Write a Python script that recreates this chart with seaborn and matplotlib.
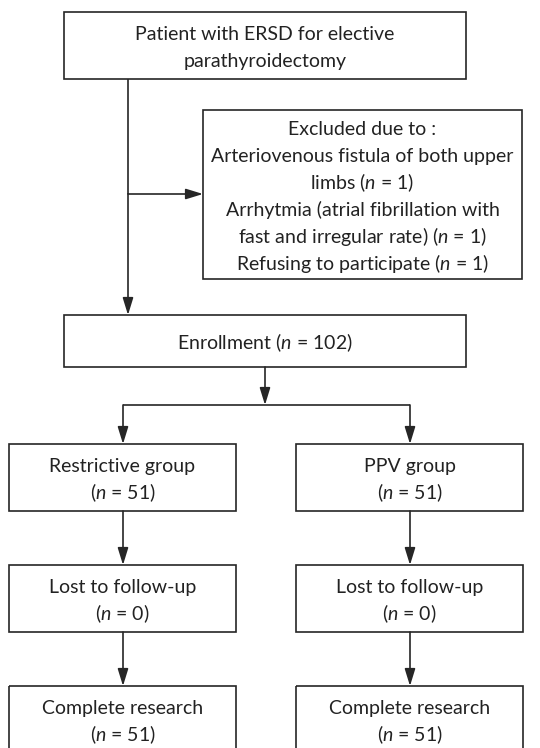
import matplotlib
matplotlib.use("Agg")
import matplotlib.pyplot as plt
from matplotlib.patches import Rectangle
import seaborn as sns

# data
n_enrolled = 102
group_names = ["Restrictive group", "PPV group"]
group_n = [51, 51]
lost_n = [0, 0]
complete_n = [51, 51]
excluded_reasons = [["Arteriovenous fistula of both upper", "limbs"],
                    ["Arrhytmia (atrial fibrillation with", "fast and irregular rate)"],
                    ["Refusing to participate"]]
excluded_n = [1, 1, 1]

sns.set_style("white")
plt.rcParams['font.family'] = ['Lato', 'DejaVu Sans']
plt.rcParams['mathtext.fontset'] = 'custom'
plt.rcParams['mathtext.it'] = 'Lato:italic'
plt.rcParams['mathtext.rm'] = 'Lato'

LC = "#262626"
FS = 14
LINE_H = 27

fig = plt.figure(figsize=(5.4, 7.48), dpi=100)
ax = fig.add_axes([0, 0, 1, 1])
ax.set_xlim(0, 540)
ax.set_ylim(748, 0)
ax.axis("off")


def nstr(v):
    return f"($n$ = {v})"


def box(x0, y0, x1, y1, lines, cy=None):
    ax.add_patch(Rectangle((x0, y0), x1 - x0, y1 - y0, fill=False, ec=LC, lw=1.2))
    if cy is None:
        cy = (y0 + y1) / 2
    cx = (x0 + x1) / 2
    n = len(lines)
    for i, t in enumerate(lines):
        yc = cy + (i - (n - 1) / 2) * LINE_H + 1
        ax.text(cx, yc + 7, t, ha="center", va="baseline", fontsize=FS, color="#222222")


def arrow(x0, y0, x1, y1):
    ax.annotate("", xy=(x1, y1), xytext=(x0, y0),
                arrowprops=dict(arrowstyle="-|>,head_length=0.65,head_width=0.2",
                                color=LC, lw=1.2, mutation_scale=16,
                                shrinkA=0, shrinkB=0))


def line(xs, ys):
    ax.plot(xs, ys, color=LC, lw=1.2, solid_capstyle="butt")


# top box
box(64, 12, 466, 79, ["Patient with ERSD for elective", "parathyroidectomy"])

# excluded box
excl_lines = ["Excluded due to :"]
for r, v in zip(excluded_reasons, excluded_n):
    excl_lines += r[:-1] + [f"{r[-1]} {nstr(v)}"]
box(203, 110, 522, 279, excl_lines)

line([128, 128], [79, 194])
arrow(128, 194, 203, 194)
arrow(128, 194, 128, 315)

# enrollment
box(64, 315, 466, 367, [f"Enrollment {nstr(n_enrolled)}"])
arrow(265, 367, 265, 405)
line([123, 410], [405, 405])

cols = [(9, 236, 123), (296, 523, 410)]
for i, (x0, x1, cx) in enumerate(cols):
    arrow(cx, 405, cx, 444)
    box(x0, 444, x1, 511, [group_names[i], nstr(group_n[i])])
    arrow(cx, 511, cx, 565)
    box(x0, 565, x1, 632, ["Lost to follow-up", nstr(lost_n[i])])
    arrow(cx, 632, cx, 686)
    box(x0, 686, x1, 760, ["Complete research", nstr(complete_n[i])], cy=719.5)

fig.savefig("out.png", dpi=100, facecolor="white")
